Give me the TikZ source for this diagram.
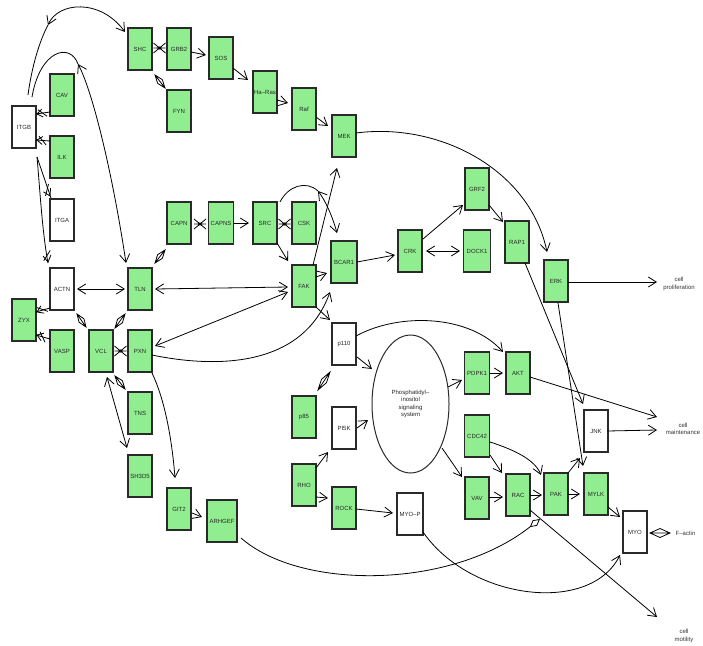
\documentclass[tikz,border=0pt]{standalone}
\usepackage{fontspec}
\setmainfont{Liberation Sans}
\usetikzlibrary{arrows.meta,shapes.geometric,calc}
\definecolor{gfill}{HTML}{90EE90}
\definecolor{bord}{HTML}{2A2A2A}
\tikzset{
 box/.style={draw=bord, line width=1.05pt, minimum width=24pt, minimum height=42pt, inner sep=0pt, font=\fontsize{6}{7}\selectfont, text=black!85},
 gbox/.style={box, fill=gfill},
 wbox/.style={box, fill=white},
 ln/.style={line width=0.8pt, black},
 arr/.style={ln, -{Straight Barb[length=8pt,width=10pt]}},
 darr/.style={ln, {Straight Barb[length=8pt,width=10pt]}-{Straight Barb[length=8pt,width=10pt]}},
 lbl/.style={font=\fontsize{6}{7.5}\selectfont, align=center, text=black!80, inner sep=0pt},
}
\newcommand{\dmk}[3]{\draw[ln] (#1) -- ($(#1)!.5!(#2)!#3!90:(#2)$) -- (#2) -- ($(#1)!.5!(#2)!#3!-90:(#2)$) -- cycle (#1) -- (#2);}
\newcommand{\xmk}[1]{\draw[ln] (#1) +(-6,-5) -- +(6,5) +(-6,5) -- +(6,-5) +(-6,0) -- +(6,0); \draw[ln] (#1) ellipse [x radius=1.6, y radius=1.1];}
\newcommand{\zmk}[2]{\draw[ln] ($(#1)!.5!(#2)!4pt!90:(#2)$) -- (#1) -- ($(#1)!.5!(#2)!4pt!-90:(#2)$) ($(#1)!.15!(#2)!4pt!90:(#2)$) -- ($(#1)!.85!(#2)!4pt!-90:(#2)$);}
\begin{document}
\begin{tikzpicture}[x=1pt,y=-1pt]
\useasboundingbox (0,0) rectangle (703,645);
% nodes
\node[wbox] (ITGB) at (24,127) {ITGB};
\node[gbox] (CAV) at (62,95) {CAV};
\node[gbox] (ILK) at (62,157) {ILK};
\node[wbox] (ITGA) at (62,220) {ITGA};
\node[wbox] (ACTN) at (62,289) {ACTN};
\node[gbox] (ZYX) at (24,320) {ZYX};
\node[gbox] (VASP) at (62,351) {VASP};
\node[gbox] (VCL) at (101,351) {VCL};
\node[gbox] (PXN) at (140,351) {PXN};
\node[gbox] (TLN) at (140,289) {TLN};
\node[gbox] (TNS) at (140,413) {TNS};
\node[gbox] (SH3D5) at (140,476) {SH3D5};
\node[gbox] (GIT2) at (179,509) {GIT2};
\node[gbox, minimum width=30pt] (ARHGEF) at (222,521) {ARHGEF};
\node[gbox] (SHC) at (140,49) {SHC};
\node[gbox] (GRB2) at (179,49) {GRB2};
\node[gbox] (FYN) at (179,111) {FYN};
\node[gbox] (SOS) at (221,58) {SOS};
\node[gbox] (HaRas) at (265,92) {Ha–Ras};
\node[gbox] (Raf) at (304,109) {Raf};
\node[gbox] (MEK) at (344,136) {MEK};
\node[gbox] (CAPN) at (179,223) {CAPN};
\node[gbox, minimum width=25pt] (CAPNS) at (221,223) {CAPNS};
\node[gbox] (SRC) at (265,223) {SRC};
\node[gbox] (CSK) at (304,223) {CSK};
\node[gbox] (FAK) at (304,286) {FAK};
\node[gbox, minimum width=26pt] (BCAR1) at (344,262) {BCAR1};
\node[gbox] (CRK) at (410,251) {CRK};
\node[gbox, minimum width=27pt] (DOCK1) at (477,251) {DOCK1};
\node[gbox] (GRF2) at (477,189) {GRF2};
\node[gbox] (RAP1) at (517,242) {RAP1};
\node[gbox] (ERK) at (556,281) {ERK};
\node[wbox] (p110) at (344,344) {p110};
\node[wbox] (PI5K) at (344,428) {PI5K};
\node[gbox] (p85) at (304,417) {p85};
\node[gbox] (RHO) at (304,485) {RHO};
\node[gbox] (ROCK) at (344,508) {ROCK};
\node[wbox, minimum width=26pt] (MYOP) at (410,514) {MYO–P};
\node[draw=bord, line width=1pt, ellipse, minimum width=77pt, minimum height=138pt, inner sep=0pt, align=center, font=\fontsize{6}{7.5}\selectfont, text=black!85] (PI) at (410.5,404) {Phosphatidyl–\\inositol\\signaling\\system};
\node[gbox, minimum width=25pt] (PDPK1) at (477,373) {PDPK1};
\node[gbox] (AKT) at (518,373) {AKT};
\node[gbox, minimum width=25pt] (CDC42) at (477,436) {CDC42};
\node[gbox] (VAV) at (477,498) {VAV};
\node[gbox] (RAC) at (518,495) {RAC};
\node[gbox] (PAK) at (556,494) {PAK};
\node[gbox] (MYLK) at (596,494) {MYLK};
\node[wbox] (JNK) at (596,431) {JNK};
\node[wbox] (MYO) at (635,532) {MYO};
\node[lbl] (prolif) at (679,284) {cell\\proliferation};
\node[lbl] (maint) at (683,429) {cell\\maintenance};
\node[lbl] (motil) at (684,636) {cell\\motility};
\node[lbl] (factin) at (685.5,533) {F–actin};
% curved long-range connectors
\coordinate (c1) at ([shift={(24,-102)}]ITGB.center);
\draw[ln] ([shift={(4,-32)}]ITGB.center) .. controls (32,65) and (40,40) .. (c1);
\draw[darr] (c1) .. controls (58,2) and (100,-2) .. ([shift={(-15,-17)}]SHC.center);
\coordinate (c2) at ([shift={(54,-63)}]ITGB.center);
\draw[ln] ([shift={(8,-30)}]ITGB.center) .. controls (40,50) and (70,42) .. (c2);
\draw[darr] (c2) .. controls (92,90) and (112,170) .. ([shift={(-14,-26)}]TLN.center);
\coordinate (c3) at ([shift={(14,-32)}]CSK.center);
\draw[ln] ([shift={(15,-21)}]SRC.center) .. controls (288,186) and (306,180) .. (c3);
\draw[darr] (c3) .. controls (325,200) and (332,215) .. ([shift={(-7,-29)}]BCAR1.center);
\draw[arr] ([shift={(12,-3)}]MEK.center) .. controls (440,122) and (530,170) .. ([shift={(-9,-29)}]ERK.center);
\draw[arr] ([shift={(9,-21)}]FAK.center) -- ([shift={(-7,32)}]MEK.center);
\draw[arr] ([shift={(12,4)}]PXN.center) .. controls (200,365) and (300,375) .. ([shift={(-14,30)}]BCAR1.center);
\draw[arr] ([shift={(12,-8)}]p110.center) .. controls (400,312) and (470,315) .. ([shift={(-15,-21)}]AKT.center);
\draw[arr] ([shift={(13,6)}]CDC42.center) .. controls (515,450) and (535,460) .. ([shift={(-15,-19)}]PAK.center);
\draw[arr] ([shift={(13,18)}]MYOP.center) .. controls (470,600) and (590,615) .. ([shift={(-15,23)}]MYO.center);
\draw[ln, -{Diamond[open,length=13pt,width=7pt]}] ([shift={(19,17)}]ARHGEF.center) .. controls (300,590) and (450,590) .. ([shift={(22,24)}]RAC.center);
\draw[arr] ([shift={(12,22)}]PXN.center) .. controls (165,400) and (172,440) .. ([shift={(-4,-31)}]GIT2.center);
% straight connectors
\draw[arr] ([shift={(12,3)}]GRB2.center) -- ([shift={(-15,-3)}]SOS.center);
\draw[arr] ([shift={(12,10)}]SOS.center) -- ([shift={(-17,-12)}]HaRas.center);
\draw[arr] ([shift={(12,8)}]HaRas.center) -- ([shift={(-16,-6)}]Raf.center);
\draw[arr] ([shift={(12,8)}]Raf.center) -- ([shift={(-16,-10)}]MEK.center);
\draw[arr] ([shift={(12,20)}]SRC.center) -- ([shift={(-16,-25)}]FAK.center);
\draw[arr] ([shift={(13,0)}]CAPNS.center) -- ([shift={(-16,0)}]SRC.center);
\draw[darr] ([shift={(15,0)}]ACTN.center) -- ([shift={(-15,0)}]TLN.center);
\draw[darr] ([shift={(15,0)}]TLN.center) -- ([shift={(-16,1)}]FAK.center);
\draw[darr] ([shift={(15,-5)}]PXN.center) -- ([shift={(-16,6)}]FAK.center);
\draw[arr] ([shift={(12,-9)}]FAK.center) -- ([shift={(-17,11)}]BCAR1.center);
\draw[arr] ([shift={(12,21)}]FAK.center) -- ([shift={(-14,-24)}]p110.center);
\draw[arr] ([shift={(13,0)}]BCAR1.center) -- ([shift={(-15,4)}]CRK.center);
\draw[arr] ([shift={(13,-12)}]CRK.center) -- ([shift={(-14,16)}]GRF2.center);
\draw[darr] ([shift={(16,0)}]CRK.center) -- ([shift={(-17,0)}]DOCK1.center);
\draw[arr] ([shift={(12,16)}]GRF2.center) -- ([shift={(-14,-20)}]RAP1.center);
\draw[arr] ([shift={(8,21)}]RAP1.center) -- ([shift={(-13,-27)}]JNK.center);
\draw[arr] ([shift={(12,1)}]ERK.center) -- ([shift={(-22,-2)}]prolif.center);
\draw[arr] ([shift={(2,22)}]ERK.center) -- ([shift={(-13,-28)}]MYLK.center);
\draw[arr] ([shift={(12,4)}]AKT.center) -- ([shift={(-26,-12)}]maint.center);
\draw[arr] ([shift={(11,0)}]JNK.center) -- ([shift={(-26,1)}]maint.center);
\draw[arr] ([shift={(13,13)}]p110.center) -- ([shift={(-38.5,-35)}]PI.center);
\draw[arr] ([shift={(13,0)}]PI5K.center) -- ([shift={(-42.5,16)}]PI.center);
\draw[arr] ([shift={(12,-17)}]RHO.center) -- ([shift={(-16,24)}]PI5K.center);
\draw[arr] ([shift={(12,12)}]RHO.center) -- ([shift={(-16,-10)}]ROCK.center);
\draw[arr] ([shift={(12,1)}]ROCK.center) -- ([shift={(-17,-1)}]MYOP.center);
\draw[arr] ([shift={(37.5,-17)}]PI.center) -- ([shift={(-15,7)}]PDPK1.center);
\draw[arr] ([shift={(13,0)}]PDPK1.center) -- ([shift={(-15,0)}]AKT.center);
\draw[arr] ([shift={(31.5,44)}]PI.center) -- ([shift={(-15,-21)}]VAV.center);
\draw[arr] ([shift={(13,19)}]CDC42.center) -- ([shift={(-16,-22)}]RAC.center);
\draw[arr] ([shift={(12,-1)}]VAV.center) -- ([shift={(-15,2)}]RAC.center);
\draw[arr] ([shift={(12,0)}]RAC.center) -- ([shift={(-14,1)}]PAK.center);
\draw[arr] ([shift={(12,0)}]PAK.center) -- ([shift={(-16,0)}]MYLK.center);
\draw[arr] ([shift={(12,-21)}]PAK.center) -- ([shift={(-16,27)}]JNK.center);
\draw[arr] ([shift={(12,13)}]MYLK.center) -- ([shift={(-15,-15)}]MYO.center);
\draw[arr] ([shift={(12,15)}]RAC.center) -- ([shift={(-27,-19)}]motil.center);
\draw[darr] ([shift={(6,26)}]VCL.center) -- ([shift={(-13,-28)}]SH3D5.center);
\draw[arr] ([shift={(13,4)}]GIT2.center) -- ([shift={(-20,-4)}]ARHGEF.center);
% ITGB lower connectors
\draw[ln] ([shift={(13,30)}]ITGB.center) -- ([shift={(-11,-22)}]ITGA.center);
\draw[ln] ([shift={(13,30)}]ITGB.center) .. controls (40,190) and (42,230) .. ([shift={(-14,-26)}]ACTN.center);
\draw[ln] ([shift={(-12,17)}]CAV.center) -- ([shift={(12,-13)}]ITGB.center);
\draw[ln] ([shift={(-12,-16)}]ILK.center) -- ([shift={(12,13)}]ITGB.center);
\draw[ln] ([shift={(12,-8)}]ZYX.center) -- ([shift={(-12,19)}]ACTN.center);
\draw[ln] ([shift={(12,15)}]ZYX.center) -- ([shift={(-12,-12)}]VASP.center);
% marks
\coordinate (zA) at ([shift={(13,-13)}]ITGB.center); \coordinate (zB) at ([shift={(-14,17)}]CAV.center); \zmk{zA}{zB}
\coordinate (zC) at ([shift={(13,13)}]ITGB.center); \coordinate (zD) at ([shift={(-14,-16)}]ILK.center); \zmk{zC}{zD}
\coordinate (zE) at ([shift={(13,-8)}]ZYX.center); \coordinate (zF) at ([shift={(-14,18)}]ACTN.center); \zmk{zE}{zF}
\coordinate (zG) at ([shift={(13,15)}]ZYX.center); \coordinate (zH) at ([shift={(-14,-12)}]VASP.center); \zmk{zG}{zH}
\coordinate (zI) at ([shift={(-12,-24)}]ITGA.center); \coordinate (zJ) at ([shift={(-18,-36)}]ITGA.center); \zmk{zI}{zJ}
\coordinate (zK) at ([shift={(-14,-27)}]ACTN.center); \coordinate (zL) at ([shift={(-16,-40)}]ACTN.center); \zmk{zK}{zL}
\xmk{$(SHC)!.5!(GRB2)+(0,-1)$}
\xmk{$(CAPN)!.5!(CAPNS)+(0,1)$}
\xmk{$(SRC)!.5!(CSK)+(0,1)$}
\xmk{$(VCL)!.5!(PXN)$}
\coordinate (d1) at ([shift={(15,26)}]SHC.center); \coordinate (d2) at ([shift={(-14,-23)}]FYN.center); \dmk{d1}{d2}{3pt}
\coordinate (d3) at ([shift={(-14,27)}]CAPN.center); \coordinate (d4) at ([shift={(15,-26)}]TLN.center); \dmk{d3}{d4}{3pt}
\coordinate (d5) at ([shift={(-15,25)}]TLN.center); \coordinate (d6) at ([shift={(14,-23)}]VCL.center); \dmk{d5}{d6}{3pt}
\coordinate (d7) at ([shift={(15,25)}]ACTN.center); \coordinate (d8) at ([shift={(-15,-24)}]VCL.center); \dmk{d7}{d8}{3pt}
\coordinate (d9) at ([shift={(14,25)}]VCL.center); \coordinate (d10) at ([shift={(-15,-24)}]TNS.center); \dmk{d9}{d10}{3pt}
\coordinate (d11) at ([shift={(-14,28)}]p110.center); \coordinate (d12) at ([shift={(14,-27)}]p85.center); \dmk{d11}{d12}{3pt}
\coordinate (d13) at ([shift={(15,1)}]MYO.center); \coordinate (d14) at ([shift={(-15.5,0)}]factin.center); \dmk{d13}{d14}{4.5pt}
\end{tikzpicture}
\end{document}
